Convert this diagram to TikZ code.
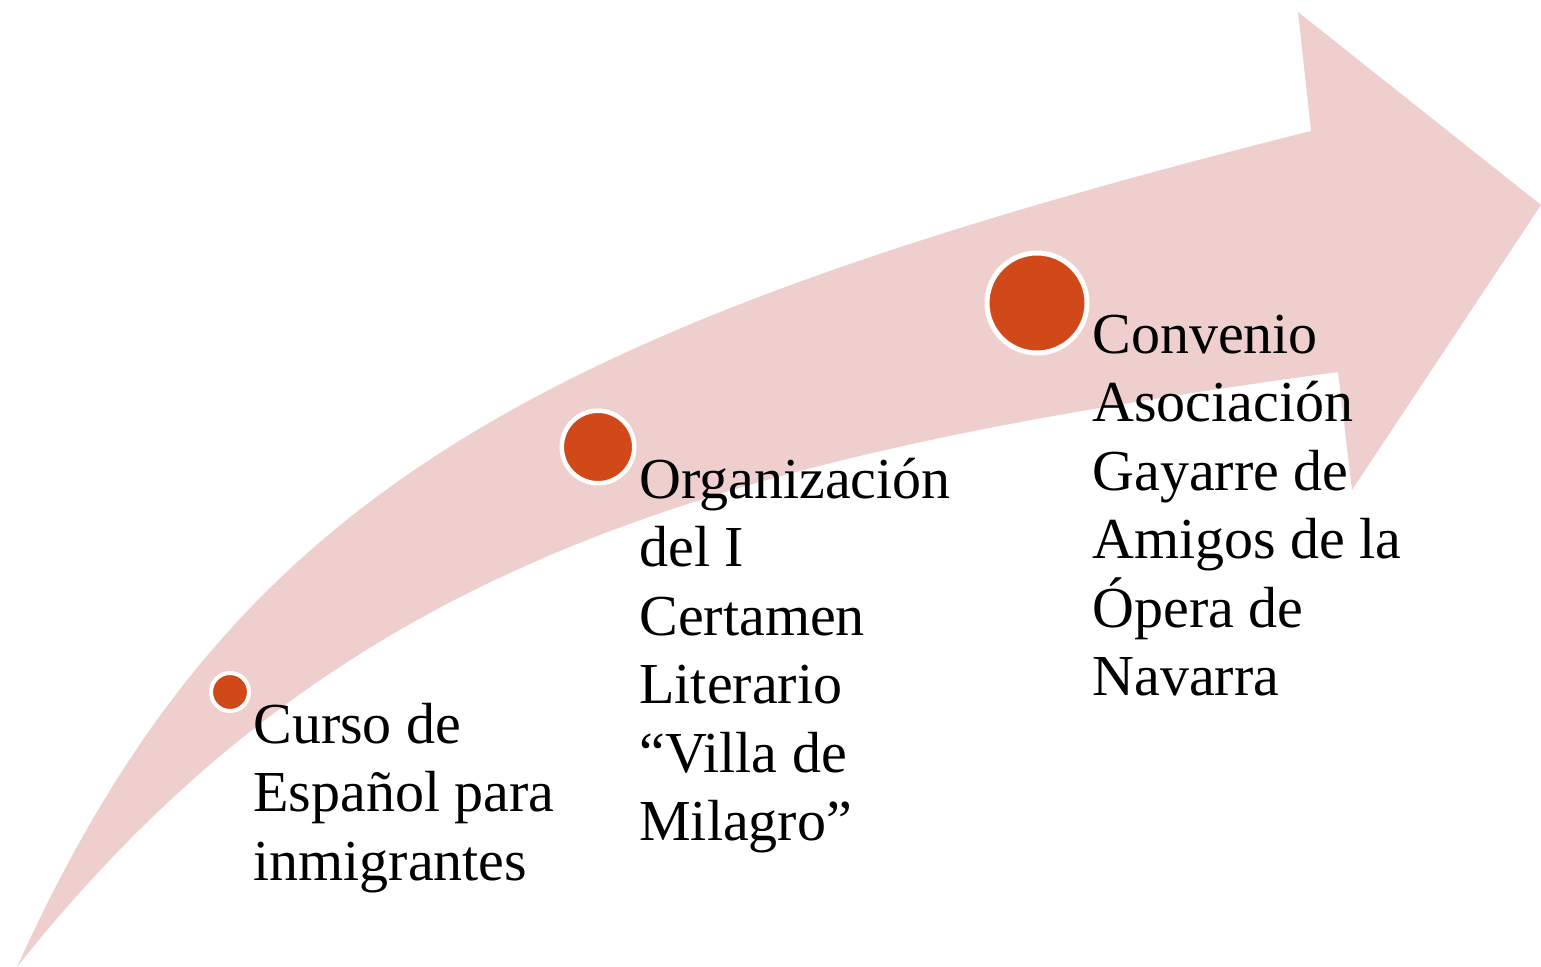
\documentclass[tikz,border=0pt]{standalone}
\usepackage{fontspec}
\setmainfont{Liberation Serif}
\definecolor{arrowpink}{RGB}{239,207,205}
\definecolor{dotorange}{RGB}{209,73,25}
\tikzset{
  arrowfill/.style={fill=arrowpink, draw=none},
  dotnode/.style={circle, fill=dotorange, draw=white, inner sep=0pt},
  labeltext/.style={anchor=base west, inner sep=0pt, align=left, text=black,
    font=\fontsize{29}{34.25}\selectfont}
}
\begin{document}
\begin{tikzpicture}[x=0.5pt, y=-0.5pt]
\useasboundingbox (0,0) rectangle (1541,967);
% curved arrow
\fill[arrowfill]
  (17,967) .. controls (229,499) and (523.5,329) .. (1311,131)
  -- (1298,12) -- (1541,205) -- (1352,490) -- (1338,372)
  .. controls (722,456) and (342.5,557.5) .. (17,967)
  -- cycle;
% dots
\node[dotnode, minimum size=19pt, line width=2pt] (d1) at (230,692) {};
\node[dotnode, minimum size=36.25pt, line width=2.25pt] (d2) at (598,447) {};
\node[dotnode, minimum size=50pt, line width=2.5pt] (d3) at (1037,303) {};
% labels (anchor = baseline of the last line)
\node[labeltext] (t1) at (253,880) {Curso de\\Español para\\inmigrantes};
\node[labeltext] (t2) at (639,840.5) {Organización\\del I\\Certamen\\Literario\\“Villa de\\Milagro”};
\node[labeltext] (t3) at (1092,695.5) {Convenio\\Asociación\\Gayarre de\\Amigos de la\\Ópera de\\Navarra};
\end{tikzpicture}
\end{document}
